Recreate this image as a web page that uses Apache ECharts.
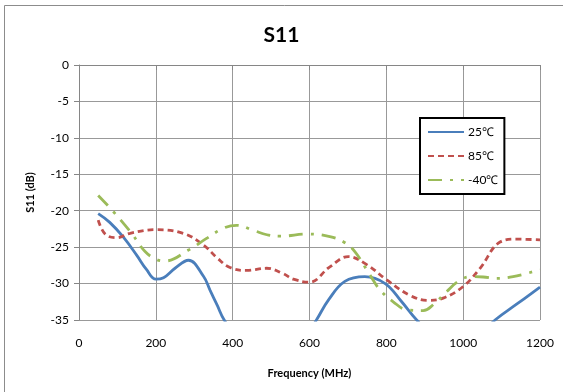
<!DOCTYPE html>
<html><head><meta charset="utf-8">
<script src="https://cdn.jsdelivr.net/npm/echarts@6/dist/echarts.min.js"></script>
<style>html,body{margin:0;padding:0;background:#fff}#c{width:563px;height:392px}</style>
</head><body><div id="c"></div>
<script>
const seriesNames = ['25℃', '85℃', '-40℃'];
const freq25 = [50,80,115,150,176,200,220,250,285,324,341,360,378,420,500,580,618,650,692,744,797,840,879,950,1020,1083,1140,1200];
const s11_25 = [-20.4,-21.6,-23.6,-26.1,-28.1,-29.4,-29.2,-27.9,-26.8,-29.0,-30.9,-33.0,-35.0,-38.0,-40.0,-38.0,-35.0,-32.2,-29.7,-29.05,-30.0,-32.5,-35.0,-38.5,-38.0,-35.0,-32.8,-30.5];
const freq85 = [50,68,98,133,200,271,324,360,393,436,488,530,558,600,653,701,749,801,861,909,948,1000,1044,1096,1139,1200];
const s11_85 = [-21.3,-23.2,-23.7,-23.1,-22.6,-23.1,-24.7,-26.5,-27.8,-28.2,-27.9,-28.6,-29.4,-29.8,-27.7,-26.3,-27.4,-29.5,-31.6,-32.3,-32.0,-30.4,-27.9,-24.3,-23.9,-24.0];
const freqM40 = [50,89,137,172,202,224,285,332,376,410,454,489,523,597,653,688,718,757,784,818,853,896,922,957,987,1018,1052,1087,1130,1200];
const s11_M40 = [-17.9,-20.1,-23.1,-25.6,-26.7,-26.9,-25.4,-23.8,-22.4,-22.0,-22.7,-23.3,-23.5,-23.2,-23.55,-24.25,-25.6,-28.8,-30.9,-32.5,-33.6,-33.7,-32.9,-31.1,-29.7,-29.05,-29.1,-29.3,-29.05,-28.1];
const xTicks = [0,200,400,600,800,1000,1200];
const yTicks = [0,-5,-10,-15,-20,-25,-30,-35];

const zip = (xs, ys) => xs.map((x, i) => [x, ys[i]]);
const font = 'Lato, "Liberation Sans", sans-serif';
const chart = echarts.init(document.getElementById('c'), null, {renderer: 'canvas'});
chart.setOption({
  animation: false,
  backgroundColor: '#fff',
  title: {text: 'S11', left: 'center', top: 20, textStyle: {fontFamily: font, fontSize: 21, fontWeight: 'bold', color: '#000'}},
  graphic: [{type: 'rect', shape: {x: 4.5, y: 5.5, width: 600, height: 400}, style: {fill: null, stroke: '#8c8c8c', lineWidth: 1}, silent: true}],
  grid: {left: 79, right: 23, top: 65, bottom: 72},
  legend: {
    orient: 'vertical', left: 420, top: 118,
    data: seriesNames,
    borderColor: '#000', borderWidth: 2, padding: [8, 6, 8, 7],
    itemWidth: 36, itemHeight: 10, itemGap: 12,
    itemStyle: {opacity: 0},
    textStyle: {fontFamily: font, fontSize: 12, color: '#000', padding: [0, 0, 0, -1]},
    backgroundColor: '#fff'
  },
  xAxis: {
    type: 'value', min: 0, max: 1200, interval: 200,
    name: 'Frequency (MHz)', nameLocation: 'middle', nameGap: 48,
    nameTextStyle: {fontFamily: font, fontSize: 11, fontWeight: 'bold', color: '#000'},
    axisLine: {lineStyle: {color: '#868686'}},
    axisTick: {show: true, length: 5, lineStyle: {color: '#868686'}},
    axisLabel: {fontFamily: font, fontSize: 12, color: '#000', margin: 17, formatter: v => String(v)},
    splitLine: {show: true, lineStyle: {color: '#999'}}
  },
  yAxis: {
    type: 'value', min: -35, max: 0, interval: 5,
    name: 'S11 (dB)', nameLocation: 'middle', nameGap: 43, nameRotate: 90,
    nameTextStyle: {fontFamily: font, fontSize: 11, fontWeight: 'bold', color: '#000'},
    axisLine: {show: true, lineStyle: {color: '#868686'}},
    axisTick: {show: true, length: 5, lineStyle: {color: '#868686'}},
    axisLabel: {fontFamily: font, fontSize: 12, color: '#000', margin: 10, formatter: v => String(v)},
    splitLine: {show: true, lineStyle: {color: '#999'}}
  },
  series: [
    {name: seriesNames[0], type: 'line', data: zip(freq25, s11_25), smooth: 0.4, symbol: 'none', clip: true,
     itemStyle: {color: '#4A7EBB'}, lineStyle: {color: '#4A7EBB', width: 2.8}},
    {name: seriesNames[1], type: 'line', data: zip(freq85, s11_85), smooth: 0.4, symbol: 'none', clip: true,
     itemStyle: {color: '#C0504D'}, lineStyle: {color: '#C0504D', width: 2.8, type: [6, 4]}},
    {name: seriesNames[2], type: 'line', data: zip(freqM40, s11_M40), smooth: 0.4, symbol: 'none', clip: true,
     itemStyle: {color: '#9BBB59'}, lineStyle: {color: '#9BBB59', width: 2.8, type: [14, 8, 3, 8]}}
  ]
});
</script></body></html>
